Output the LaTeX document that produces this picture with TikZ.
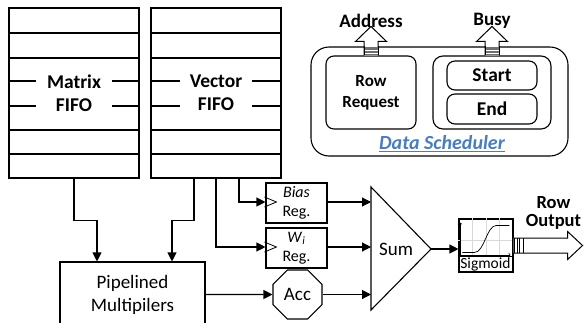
\documentclass[tikz,border=0pt]{standalone}
\usepackage{fontspec}
\setmainfont{Carlito}
\usepackage{tikz}
\usetikzlibrary{arrows.meta,positioning,calc,shapes.geometric}
\definecolor{dsblue}{HTML}{4A7EBB}
\definecolor{dsgrey}{HTML}{6F6F6F}
\definecolor{gridgrey}{HTML}{D9D9D9}

\begin{document}
\begin{tikzpicture}[x=1pt,y=-1pt,
  line width=1.1pt,
  fifo/.style={draw,minimum width=130pt,minimum height=170pt},
  fifolbl/.style={fill=white,inner xsep=10pt,align=center,
                  font=\fontsize{19.5}{23}\selectfont\bfseries},
  blk/.style={draw,align=center,font=\fontsize{19}{23}\selectfont},
  reg/.style={draw,align=center,minimum width=61pt,minimum height=40pt,
              inner sep=0pt,font=\fontsize{16}{19}\selectfont},
  rbox/.style={draw,rounded corners=8pt,align=center,inner sep=0pt,
               font=\fontsize{19.5}{22}\selectfont\bfseries},
  lbl/.style={align=center,inner sep=0pt,
              font=\fontsize{19}{16}\selectfont\bfseries},
  arr/.style={-{Triangle[length=9pt,width=9pt]}},
  hollow/.style={draw,fill=white,line width=1pt,line join=miter},
]
\clip (0,0) rectangle (584,322);

% FIFOs
\node[fifo] (fifoM) at (74,93) {};
\node[fifo] (fifoV) at (216,93) {};
\foreach \f in {fifoM,fifoV}{
  \foreach \y in {33,58,81,106,130,154}
    \draw (\f.west |- 0,\y) -- (\f.east |- 0,\y);
}
\node[fifolbl,inner xsep=11pt] (lblM) at (fifoM) {Matrix\\FIFO};
\node[fifolbl] (lblV) at (fifoV) {Vector\\FIFO};

% datapath
\node[blk,minimum width=145pt,minimum height=65pt] (pipe) at (132.5,294.5)
  {Pipelined\\Multipilers};
\node[reg] (bias) at (296.5,203) {\textit{Bias}\\Reg.};
\node[reg] (wreg) at (296.5,248) {\textit{W}\textsubscript{\textit{i}}\\Reg.};
\foreach \r in {bias,wreg}
  \draw[line width=0.8pt] ([xshift=-1pt,yshift=6pt]\r.west) -- ++(12,5) -- ++(-12,5);
\node[draw,regular polygon,regular polygon sides=8,minimum size=53pt,
      inner sep=0pt,font=\fontsize{19}{23}\selectfont] (acc) at (297.5,294.5) {Acc};

\coordinate (sumtl) at (371,187);
\coordinate (sumbl) at (371,310);
\coordinate (sumtip) at (431,249);
\draw (sumtl) -- (sumtip) -- (sumbl) -- cycle;
\node[font=\fontsize{19}{23}\selectfont] (sum) at (396,249) {Sum};

\draw[arr] (fifoM.south) -- ++(0,42) -| ([xshift=-35.5pt]pipe.north);
\draw[arr] ([xshift=-22pt]fifoV.south) -- ++(0,42) -| ([xshift=39.5pt]pipe.north);
\draw[arr] (fifoV.south) |- ([yshift=1pt]wreg.west);
\draw[arr] ([xshift=23pt]fifoV.south) |- ([yshift=1pt]bias.west);
\draw[arr] (pipe.east) -- (acc.west);
\draw[arr] ([yshift=1pt]bias.east) -- ([yshift=1pt]bias.east -| sumtl);
\draw[arr] ([yshift=1pt]wreg.east) -- ([yshift=1pt]wreg.east -| sumtl);
\draw[arr] (acc.east) -- (acc.east -| sumtl);

% sigmoid
\node[draw,minimum width=54pt,minimum height=53pt,inner sep=0pt] (sig) at (486,245.5) {};
\begin{scope}[shift={(sig.north west)}]
  \foreach \x in {14,28,41}
    \draw[gridgrey,line width=0.5pt] (\x,0) -- (\x,38);
  \draw[gridgrey,line width=0.5pt] (0,22) -- (54,22);
  \draw (0,38) -- (54,38);
  \draw[line width=0.6pt,-{To[length=2pt]}] (1.5,37) -- (1.5,4);
  \draw[line width=0.6pt,-{To[length=2pt]}] (1.5,36.5) -- (52,36.5);
  \draw[line width=0.7pt] (4,34) -- (16,34) .. controls (26,34) and (28,7) .. (38,7) -- (51,7);
  \node[font=\fontsize{15.5}{16}\selectfont,inner sep=0pt] (siglbl) at (27,45.5) {Sigmoid};
\end{scope}
\draw[arr] (sumtip) -- (sumtip -| sig.west);

% row output
\begin{scope}[shift={(sig.east)}]
  \draw[hollow] (0,-7.5) -- (54,-7.5) -- (54,-14) -- (69,0) -- (54,14)
    -- (54,7.5) -- (0,7.5);
  \foreach \x in {1,3.5,6,10}
    \draw[line width=0.8pt] (\x,-7.5) -- (\x,7.5);
\end{scope}
\node[lbl,font=\fontsize{18.5}{18}\selectfont\bfseries] (rowout) at (553.5,213) {Row\\Output};

% data scheduler
\node[draw,rounded corners=18pt,minimum width=257pt,minimum height=109pt] (sched)
  at (439.5,101.5) {};
\node[rbox,minimum width=90pt,minimum height=73pt,
      font=\fontsize{17}{21}\selectfont\bfseries] (rowreq) at (371,92.5) {Row\\Request};
\node[draw,rounded corners=10pt,minimum width=118pt,minimum height=73pt] (flags)
  at (492,92.5) {};
\node[rbox,minimum width=90pt,minimum height=29pt] (start) at (492,75.5) {Start};
\node[rbox,minimum width=90pt,minimum height=30pt] (endf) at (492,109) {End};
\node[font=\fontsize{20}{24}\selectfont\bfseries\itshape,text=dsblue] (schedlbl)
  at (442,144) {\underline{Data Scheduler}};

\foreach \n/\t in {rowreq/Address,flags/Busy}{
  \draw[hollow] ([xshift=-7pt]\n.north) -- ++(0,-14) -- ++(-8.5,0) -- ++(15.5,-15)
    -- ++(15.5,15) -- ++(-8.5,0) -- ++(0,14);
  \fill[dsgrey] ([xshift=-7pt]\n.north) rectangle ([xshift=7pt,yshift=8pt]\n.north);
  \foreach \d in {2.5,5}
    \draw[white,line width=0.6pt] ([xshift=-7pt,yshift=\d pt]\n.north)
      -- ([xshift=7pt,yshift=\d pt]\n.north);
  \draw[line width=1pt] ([xshift=-7pt]\n.north) -- ++(0,-9);
  \draw[line width=1pt] ([xshift=7pt]\n.north) -- ++(0,-9);
  \node[lbl] (out\n) at ([yshift=35pt]\n.north) {\t};
}
\end{tikzpicture}
\end{document}
